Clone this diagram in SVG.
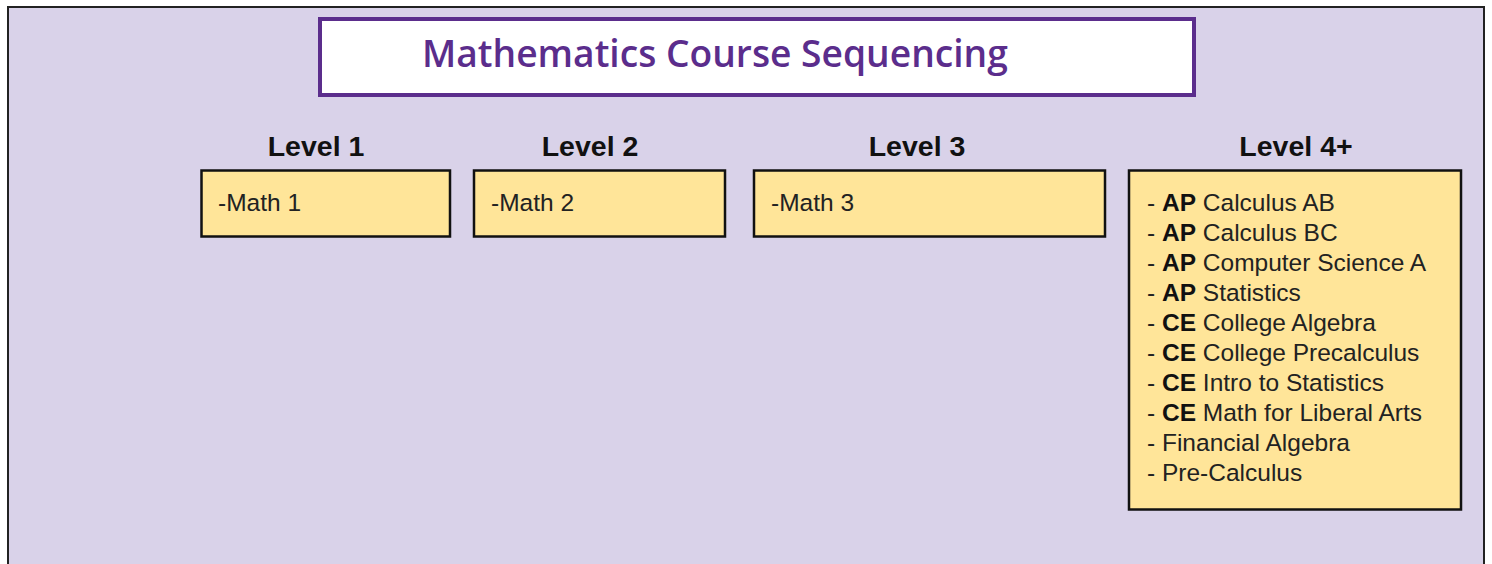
<svg xmlns="http://www.w3.org/2000/svg" width="1492" height="564" viewBox="0 0 1492 564">
<style>
.bg{fill:#d9d2e9;stroke:#222;stroke-width:2}
.title-box{fill:#ffffff;stroke:#5b2d8c;stroke-width:4}
.title{font-family:"Open Sans",Lato,sans-serif;font-size:37.2px;fill:#5b2d8c;font-weight:600;font-variant-ligatures:none}
.box{fill:#ffe599;stroke:#111;stroke-width:2.5}
.hdr{font-family:"Liberation Sans",Arial,sans-serif;font-size:28.5px;font-weight:bold;fill:#111;text-anchor:middle}
.body{font-family:"Liberation Sans",Arial,sans-serif;font-size:24.5px;fill:#222}
.b{font-weight:bold;fill:#111}
</style>
<rect class="bg" x="8" y="7" width="1476" height="570"/>
<g id="title">
<rect class="title-box" x="320" y="19" width="874" height="76"/>
<text class="title" x="422" y="67">Mathematics Course Sequencing</text>
</g>
<g id="level1">
<text class="hdr" x="316" y="156">Level 1</text>
<rect class="box" x="201.5" y="170.5" width="248.5" height="66"/>
<text class="body" x="218" y="211">-Math 1</text>
</g>
<g id="level2">
<text class="hdr" x="590" y="156">Level 2</text>
<rect class="box" x="474" y="170.5" width="251" height="66"/>
<text class="body" x="491" y="211">-Math 2</text>
</g>
<g id="level3">
<text class="hdr" x="917" y="156">Level 3</text>
<rect class="box" x="754" y="170.5" width="351" height="66"/>
<text class="body" x="771" y="211">-Math 3</text>
</g>
<g id="level4">
<text class="hdr" x="1296" y="156">Level 4+</text>
<rect class="box" x="1129" y="170.5" width="332" height="339"/>
<text class="body" x="1147" y="211">- <tspan class="b">AP</tspan> Calculus AB</text>
<text class="body" x="1147" y="241">- <tspan class="b">AP</tspan> Calculus BC</text>
<text class="body" x="1147" y="271">- <tspan class="b">AP</tspan> Computer Science A</text>
<text class="body" x="1147" y="301">- <tspan class="b">AP</tspan> Statistics</text>
<text class="body" x="1147" y="331">- <tspan class="b">CE</tspan> College Algebra</text>
<text class="body" x="1147" y="361">- <tspan class="b">CE</tspan> College Precalculus</text>
<text class="body" x="1147" y="391">- <tspan class="b">CE</tspan> Intro to Statistics</text>
<text class="body" x="1147" y="421">- <tspan class="b">CE</tspan> Math for Liberal Arts</text>
<text class="body" x="1147" y="451">- Financial Algebra</text>
<text class="body" x="1147" y="481">- Pre-Calculus</text>
</g>
<g id="connectors"></g>
</svg>
